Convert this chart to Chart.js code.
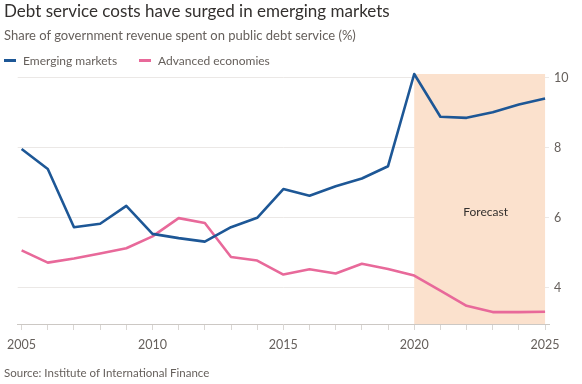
<!DOCTYPE html>
<html>
<head>
<meta charset="utf-8">
<script src="https://cdn.jsdelivr.net/npm/chart.js@4"></script>
<style>
    body { margin: 0; background: #fff; font-family: Lato, sans-serif; }
    #wrap { position: relative; width: 582px; height: 384px; overflow: hidden; }
    canvas { position: absolute; left: 0; top: 0; }
    .txt { position: absolute; white-space: nowrap; line-height: 1.2; }
    #title { left: 4px; top: 1px; font-size: 17px; color: #33302e; }
    #subtitle { left: 4px; top: 28px; font-size: 13px; color: #66605c; }
    #legend { left: 4px; top: 54px; font-size: 12px; color: #66605c; }
    #legend span.sw { display: inline-block; width: 12px; height: 3px; vertical-align: middle; margin-right: 7px; position: relative; top: -1px; }
    #legend span.item { margin-right: 22px; }
    #source { left: 4px; top: 366px; font-size: 11.5px; color: #66605c; }
</style>
</head>
<body>
<div id="wrap">
    <canvas id="chart" width="582" height="384"></canvas>
    <div class="txt" id="title">Debt service costs have surged in emerging markets</div>
    <div class="txt" id="subtitle">Share of government revenue spent on public debt service (%)</div>
    <div class="txt" id="legend"></div>
    <div class="txt" id="source">Source: Institute of International Finance</div>
</div>
<script>
const years = [2005, 2006, 2007, 2008, 2009, 2010, 2011, 2012, 2013, 2014, 2015,
    2016, 2017, 2018, 2019, 2020, 2021, 2022, 2023, 2024, 2025];
const emerging = [7.96, 7.39, 5.73, 5.83, 6.34, 5.54, 5.42, 5.32, 5.73, 6.0, 6.82,
    6.63, 6.9, 7.12, 7.47, 10.1, 8.88, 8.85, 9.01, 9.23, 9.4];
const advanced = [5.07, 4.72, 4.84, 4.98, 5.13, 5.47, 5.99, 5.85, 4.88, 4.78, 4.38,
    4.53, 4.41, 4.69, 4.54, 4.35, 3.92, 3.49, 3.31, 3.31, 3.32];
const xLabels = [2005, 2010, 2015, 2020, 2025];
const yTicks = [4, 6, 8, 10];
const forecastRange = [2020, 2025];
const seriesNames = ['Emerging markets', 'Advanced economies'];
const seriesColors = ['#1d5796', '#e8699a'];

document.getElementById('legend').innerHTML = seriesNames.map((n, i) =>
    `<span class="item"><span class="sw" style="background:${seriesColors[i]}"></span>${n}</span>`
).join('');

// peach band behind the forecast years
const forecastBand = {
    id: 'forecastBand',
    beforeDatasetsDraw(chart) {
        const { ctx, chartArea, scales } = chart;
        const x0 = scales.x.getPixelForValue(forecastRange[0]);
        const x1 = scales.x.getPixelForValue(forecastRange[1]);
        ctx.save();
        ctx.fillStyle = '#fbe1cd';
        ctx.fillRect(x0, chartArea.top, x1 - x0, chartArea.bottom - chartArea.top);
        ctx.fillStyle = '#33302e';
        ctx.font = '12px Lato, sans-serif';
        ctx.textAlign = 'center';
        ctx.textBaseline = 'middle';
        ctx.fillText('Forecast', (x0 + x1) / 2 + 6, scales.y.getPixelForValue(6.17));
        ctx.restore();
    }
};

new Chart(document.getElementById('chart'), {
    type: 'line',
    data: {
        datasets: [
            { label: seriesNames[0], data: years.map((y, i) => ({ x: y, y: emerging[i] })), borderColor: seriesColors[0] },
            { label: seriesNames[1], data: years.map((y, i) => ({ x: y, y: advanced[i] })), borderColor: seriesColors[1] }
        ].map(d => Object.assign(d, { borderWidth: 2.6, pointRadius: 0, tension: 0, clip: false, borderJoinStyle: 'round' }))
    },
    options: {
        responsive: false,
        animation: false,
        layout: { padding: { left: 16, right: 0, top: 74, bottom: 30 } },
        plugins: { legend: { display: false }, tooltip: { enabled: false } },
        scales: {
            x: {
                type: 'linear',
                min: 2004.85,
                max: 2025.15,
                afterBuildTicks: s => { s.ticks = years.map(v => ({ value: v })); },
                afterFit: s => { s.height = 30; },
                grid: { drawOnChartArea: false, drawTicks: true, tickLength: 6, color: '#d9d6d3' },
                border: { color: '#ccc8c4', width: 1 },
                ticks: {
                    autoSkip: false,
                    maxRotation: 0,
                    padding: 7,
                    color: '#66605c',
                    font: { family: 'Lato, sans-serif', size: 12.5 },
                    callback: v => xLabels.includes(v) ? String(v) : ''
                }
            },
            y: {
                position: 'right',
                min: 2.97,
                max: 10.1,
                afterBuildTicks: s => { s.ticks = yTicks.map(v => ({ value: v })); },
                afterFit: s => { s.width = 33; },
                grid: { color: '#ebe8e6', drawTicks: false },
                border: { display: false },
                ticks: {
                    padding: 5,
                    color: '#66605c',
                    font: { family: 'Lato, sans-serif', size: 12.5 }
                }
            }
        }
    },
    plugins: [forecastBand]
});
</script>
</body>
</html>
